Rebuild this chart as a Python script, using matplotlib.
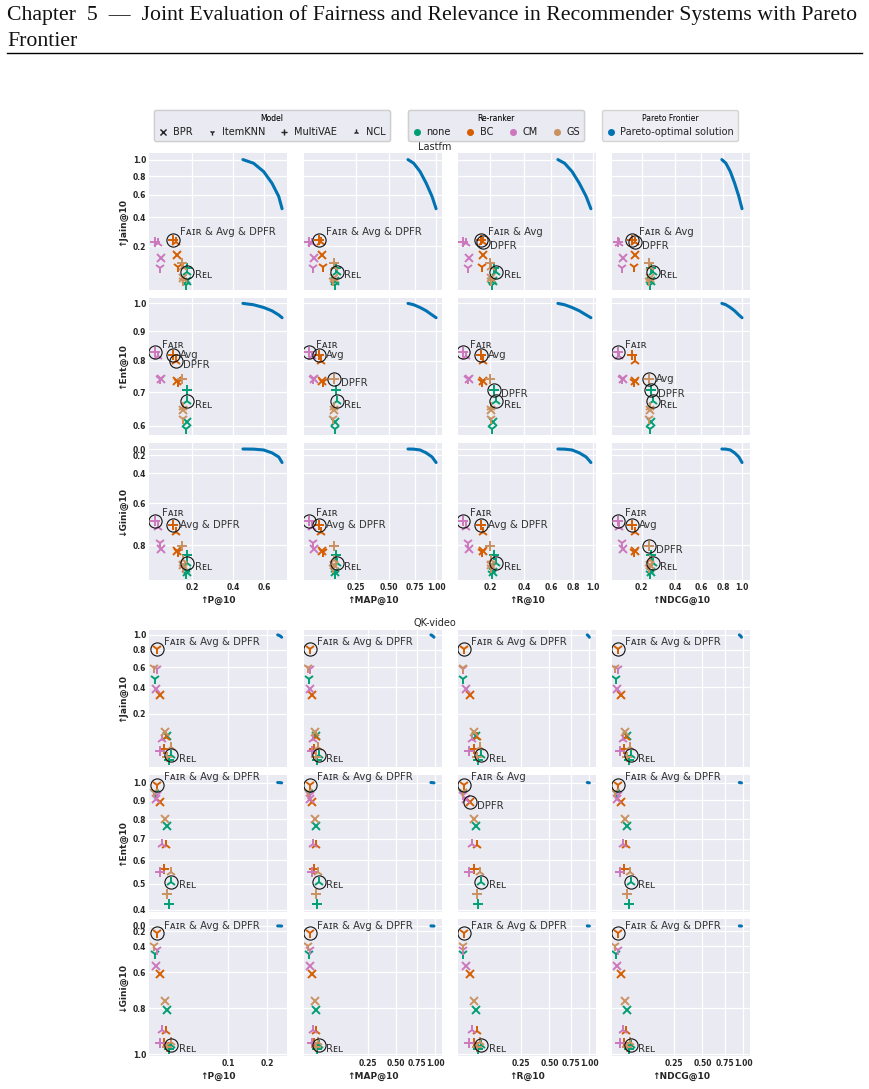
"""Fairness vs relevance scatter grid with Pareto frontiers (Lastfm, QK-video)."""

import matplotlib.pyplot as plt
import numpy as np
from matplotlib.lines import Line2D

MODELS = ["BPR", "ItemKNN", "MultiVAE", "NCL"]
RERANKERS = ["none", "BC", "CM", "GS"]
MARKERS = {"BPR": "x", "ItemKNN": "1", "MultiVAE": "+", "NCL": "2"}
COLORS = {"none": "#029E73", "BC": "#D55E00", "CM": "#CC78BC", "GS": "#CA9161"}
PARETO_COLOR = "#0173B2"
TEXT = "#262626"

REL = ["P", "MAP", "R", "NDCG"]
FAIR = ["Jain", "Ent", "Gini"]
FAIR_LABELS = {"Jain": "\u2191Jain@10", "Ent": "\u2191Ent@10", "Gini": "\u2193Gini@10"}
REL_LABELS = {"P": "\u2191P@10", "MAP": "\u2191MAP@10", "R": "\u2191R@10", "NDCG": "\u2191NDCG@10"}

# one value per run, re-rankers outer (none, BC, CM, GS), models inner (BPR, ItemKNN, MultiVAE, NCL)
LASTFM_P = [0.180, 0.177, 0.178, 0.181, 0.141, 0.145, 0.128, 0.140,
            0.092, 0.089, 0.076, 0.085, 0.165, 0.163, 0.160, 0.165]
LASTFM_MAP = [0.138, 0.135, 0.140, 0.145, 0.083, 0.085, 0.073, 0.078,
              0.056, 0.054, 0.043, 0.050, 0.130, 0.128, 0.133, 0.132]
LASTFM_R = [0.214, 0.210, 0.220, 0.230, 0.167, 0.165, 0.159, 0.170,
            0.112, 0.108, 0.091, 0.100, 0.205, 0.205, 0.200, 0.205]
LASTFM_NDCG = [0.250, 0.245, 0.246, 0.257, 0.167, 0.165, 0.154, 0.167,
               0.118, 0.115, 0.099, 0.105, 0.240, 0.238, 0.235, 0.240]
LASTFM_JAIN = [0.050, 0.040, 0.095, 0.081, 0.155, 0.100, 0.239, 0.225,
               0.139, 0.093, 0.223, 0.220, 0.060, 0.050, 0.116, 0.100]
LASTFM_ENT = [0.612, 0.592, 0.706, 0.672, 0.735, 0.730, 0.820, 0.800,
              0.740, 0.742, 0.828, 0.817, 0.645, 0.620, 0.742, 0.655]
LASTFM_GINI = [0.904, 0.912, 0.840, 0.872, 0.823, 0.830, 0.712, 0.742,
               0.817, 0.790, 0.691, 0.723, 0.880, 0.890, 0.804, 0.860]

QK_P = [0.0128, 0.0051, 0.0144, 0.0163, 0.0082, 0.0063, 0.0106, 0.0123,
        0.0060, 0.0063, 0.0078, 0.0095, 0.0111, 0.0048, 0.0128, 0.0157]
QK_MAP = [0.0127, 0.0032, 0.0150, 0.0177, 0.0068, 0.0045, 0.0098, 0.0121,
          0.0041, 0.0045, 0.0063, 0.0084, 0.0104, 0.0028, 0.0127, 0.0169]
QK_R = [0.0286, 0.0055, 0.0340, 0.0424, 0.0156, 0.0066, 0.0237, 0.0310,
        0.0092, 0.0060, 0.0139, 0.0196, 0.0237, 0.0050, 0.0310, 0.0400]
QK_NDCG = [0.0271, 0.0072, 0.0317, 0.0372, 0.0148, 0.0100, 0.0211, 0.0259,
           0.0092, 0.0100, 0.0138, 0.0181, 0.0222, 0.0065, 0.0271, 0.0356]
QK_JAIN = [0.086, 0.477, 0.0148, 0.0246, 0.335, 0.808, 0.041, 0.080,
           0.382, 0.580, 0.034, 0.075, 0.103, 0.590, 0.020, 0.045]
QK_ENT = [0.762, 0.940, 0.420, 0.508, 0.891, 0.986, 0.560, 0.673,
          0.906, 0.930, 0.550, 0.675, 0.800, 0.945, 0.458, 0.550]
QK_GINI = [0.807, 0.469, 0.980, 0.963, 0.612, 0.238, 0.954, 0.905,
           0.561, 0.431, 0.954, 0.898, 0.762, 0.400, 0.970, 0.950]

# Pareto-optimal solutions
LASTFM_FRONT_P = [0.46, 0.528, 0.597, 0.657, 0.708, 0.734]
LASTFM_FRONT_MAP = [0.68, 0.74, 0.81, 0.88, 0.95, 1.0]
LASTFM_FRONT_R = [0.66, 0.72, 0.79, 0.86, 0.93, 0.98]
LASTFM_FRONT_NDCG = [0.79, 0.83, 0.875, 0.92, 0.965, 1.0]
LASTFM_FRONT_JAIN = [1.0, 0.954, 0.853, 0.722, 0.585, 0.471]
LASTFM_FRONT_ENT = [1.0, 0.995, 0.985, 0.973, 0.958, 0.948]
LASTFM_FRONT_GINI = [0.0, 0.03, 0.08, 0.16, 0.23, 0.30]

QK_FRONT_P = [0.233, 0.238, 0.242, 0.246]
QK_FRONT_MAP = [0.94, 0.955, 0.97, 0.985]
QK_FRONT_R = [0.97, 0.98, 0.99, 1.0]
QK_FRONT_NDCG = [0.945, 0.955, 0.965, 0.975]
QK_FRONT_JAIN = [1.0, 0.993, 0.982, 0.968]
QK_FRONT_ENT = [1.0, 0.9995, 0.999, 0.998]
QK_FRONT_GINI = [0.0, 0.01, 0.02, 0.03]

# highlighted solutions: (label, re-ranker, model)
REL_PT = ("Rel", "none", "NCL")
LASTFM_MARKED = {
    ("Jain", "P"): [("Fair & Avg & DPFR", "BC", "MultiVAE"), REL_PT],
    ("Jain", "MAP"): [("Fair & Avg & DPFR", "BC", "MultiVAE"), REL_PT],
    ("Jain", "R"): [("Fair & Avg", "BC", "MultiVAE"), ("DPFR", "BC", "NCL"), REL_PT],
    ("Jain", "NDCG"): [("Fair & Avg", "BC", "MultiVAE"), ("DPFR", "BC", "NCL"), REL_PT],
    ("Ent", "P"): [("Fair", "CM", "MultiVAE"), ("Avg", "BC", "MultiVAE"), ("DPFR", "BC", "NCL"), REL_PT],
    ("Ent", "MAP"): [("Fair", "CM", "MultiVAE"), ("Avg", "BC", "MultiVAE"), ("DPFR", "GS", "MultiVAE"), REL_PT],
    ("Ent", "R"): [("Fair", "CM", "MultiVAE"), ("Avg", "BC", "MultiVAE"), ("DPFR", "none", "MultiVAE"), REL_PT],
    ("Ent", "NDCG"): [("Fair", "CM", "MultiVAE"), ("Avg", "GS", "MultiVAE"), ("DPFR", "none", "MultiVAE"), REL_PT],
    ("Gini", "P"): [("Fair", "CM", "MultiVAE"), ("Avg & DPFR", "BC", "MultiVAE"), REL_PT],
    ("Gini", "MAP"): [("Fair", "CM", "MultiVAE"), ("Avg & DPFR", "BC", "MultiVAE"), REL_PT],
    ("Gini", "R"): [("Fair", "CM", "MultiVAE"), ("Avg & DPFR", "BC", "MultiVAE"), REL_PT],
    ("Gini", "NDCG"): [("Fair", "CM", "MultiVAE"), ("Avg", "BC", "MultiVAE"), ("DPFR", "GS", "MultiVAE"), REL_PT],
}
QK_MARKED = {(f, r): [("Fair & Avg & DPFR", "BC", "ItemKNN"), REL_PT] for f in FAIR for r in REL}
QK_MARKED[("Ent", "R")] = [("Fair & Avg", "BC", "ItemKNN"), ("DPFR", "BC", "BPR"), REL_PT]

LASTFM_XLIM = {"P": (0.0625, 0.773), "MAP": (0.031, 1.075), "R": (0.076, 1.035), "NDCG": (0.08, 1.09)}
LASTFM_YLIM = {"Jain": (0.028, 1.086), "Ent": (0.574, 1.02), "Gini": (0.934, -0.2)}
QK_XLIM = {"P": (0.0028, 0.264), "MAP": (0.0005, 1.107), "R": (0.0014, 1.10), "NDCG": (0.0033, 1.10)}
QK_YLIM = {"Jain": (0.0056, 1.07), "Ent": (0.391, 1.044), "Gini": (1.006, -0.232)}

LASTFM_XTICKS = {"P": ([0.2, 0.4, 0.6], "{:.1f}"), "MAP": ([0.25, 0.5, 0.75, 1.0], "{:.2f}"),
                 "R": ([0.2, 0.4, 0.6, 0.8, 1.0], "{:.1f}"), "NDCG": ([0.2, 0.4, 0.6, 0.8, 1.0], "{:.1f}")}
QK_XTICKS = {"P": ([0.1, 0.2], "{:.1f}"), "MAP": ([0.25, 0.5, 0.75, 1.0], "{:.2f}"),
             "R": ([0.25, 0.5, 0.75, 1.0], "{:.2f}"), "NDCG": ([0.25, 0.5, 0.75, 1.0], "{:.2f}")}
LASTFM_YTICKS = {"Jain": [0.2, 0.4, 0.6, 0.8, 1.0], "Ent": [0.6, 0.7, 0.8, 0.9, 1.0],
                 "Gini": [0.0, 0.2, 0.4, 0.6, 0.8]}
QK_YTICKS = {"Jain": [0.2, 0.4, 0.6, 0.8, 1.0], "Ent": [0.4, 0.5, 0.6, 0.7, 0.8, 0.9, 1.0],
             "Gini": [0.0, 0.2, 0.4, 0.6, 0.8, 1.0]}

RUNS = [(r, m) for r in RERANKERS for m in MODELS]
W, H = 870, 1089
COL_LEFT = [149, 304, 458, 612]
AX_W, AX_H = 138, 137


def sqrt_fwd(v):
    return np.sqrt(np.maximum(v, 0))


def sqrt_inv(v):
    return np.square(v)


def sq_fwd(v):
    return np.sign(v) * np.square(v)


def sq_inv(v):
    return np.sign(v) * np.sqrt(np.abs(v))


def smallcaps(text):
    return text.replace("Fair", "F\u1d00\u026a\u0280").replace("Rel", "R\u1d07\u029f")


def label_offset(label):
    if label.startswith("Fair"):
        return (5, 5.5)
    if label.startswith("Avg"):
        return (5, 0)
    if label == "DPFR":
        return (5, -3)
    return (5.5, -2.5)


def draw_block(fig, row_tops, data, front, marked, xlims, ylims, xticks, yticks):
    for r, fm in enumerate(FAIR):
        for c, rm in enumerate(REL):
            top = row_tops[r]
            ax = fig.add_axes([COL_LEFT[c] / W, 1 - (top + AX_H) / H, AX_W / W, AX_H / H])
            ax.set_facecolor("#EAEAF2")
            ax.set_xscale("function", functions=(sqrt_fwd, sqrt_inv))
            if fm == "Gini":
                ax.set_yscale("function", functions=(sq_fwd, sq_inv))
            else:
                ax.set_yscale("function", functions=(sqrt_fwd, sqrt_inv))
            ax.plot(front[rm], front[fm], color=PARETO_COLOR, lw=2.2, solid_capstyle="round", zorder=3)
            for i, (rr, mm) in enumerate(RUNS):
                ms = 6 if mm == "BPR" else 7.5
                ax.plot(data[rm][i], data[fm][i], marker=MARKERS[mm], color=COLORS[rr],
                        ms=ms, mew=1.4, ls="none", zorder=4)
            for label, rr, mm in marked[(fm, rm)]:
                i = RUNS.index((rr, mm))
                x, y = data[rm][i], data[fm][i]
                ax.plot(x, y, "o", mfc="none", mec="#111111", ms=9.5, mew=0.8, zorder=5)
                ax.annotate(smallcaps(label), (x, y), xytext=label_offset(label),
                            textcoords="offset points", ha="left", va="center",
                            fontsize=7.3, color="#333333", zorder=6)
            ax.set_xlim(*xlims[rm])
            ax.set_ylim(*ylims[fm])
            ticks, fmt = xticks[rm]
            ax.set_xticks(ticks)
            ax.set_yticks(yticks[fm])
            ax.set_xticks([], minor=True)
            ax.set_yticks([], minor=True)
            ax.grid(True, color="white", lw=0.9)
            ax.set_axisbelow(True)
            for s in ax.spines.values():
                s.set_visible(False)
            ax.tick_params(length=0, pad=2, labelsize=5.5, labelcolor=TEXT)
            if r == len(FAIR) - 1:
                ax.set_xticklabels([fmt.format(t) for t in ticks], fontweight="bold")
                ax.set_xlabel(REL_LABELS[rm], fontsize=6.5, fontweight="bold", color=TEXT, labelpad=3)
            else:
                ax.tick_params(labelbottom=False)
            if c == 0:
                ax.set_yticklabels([f"{t:.1f}" for t in yticks[fm]], fontweight="bold")
                ax.set_ylabel(FAIR_LABELS[fm], fontsize=6.5, fontweight="bold", color=TEXT, labelpad=4)
            else:
                ax.tick_params(labelleft=False)


def main():
    fig = plt.figure(figsize=(W / 100, H / 100), dpi=100)

    fig.text(7 / W, 1 - 15 / H, "Chapter  5  \u2014  Joint Evaluation of Fairness and Relevance in Recommender Systems with Pareto",
             family="Liberation Serif", fontsize=15.7, va="center", ha="left", color="#111111")
    fig.text(7 / W, 1 - 42 / H, "Frontier", family="Liberation Serif", fontsize=15.7,
             va="center", ha="left", color="#111111")
    fig.add_artist(Line2D([7 / W, 862 / W], [1 - 53 / H, 1 - 53 / H], color="black", lw=1.0))

    lastfm = {"P": LASTFM_P, "MAP": LASTFM_MAP, "R": LASTFM_R, "NDCG": LASTFM_NDCG,
              "Jain": LASTFM_JAIN, "Ent": LASTFM_ENT, "Gini": LASTFM_GINI}
    lastfm_front = {"P": LASTFM_FRONT_P, "MAP": LASTFM_FRONT_MAP, "R": LASTFM_FRONT_R,
                    "NDCG": LASTFM_FRONT_NDCG, "Jain": LASTFM_FRONT_JAIN,
                    "Ent": LASTFM_FRONT_ENT, "Gini": LASTFM_FRONT_GINI}
    qk = {"P": QK_P, "MAP": QK_MAP, "R": QK_R, "NDCG": QK_NDCG,
          "Jain": QK_JAIN, "Ent": QK_ENT, "Gini": QK_GINI}
    qk_front = {"P": QK_FRONT_P, "MAP": QK_FRONT_MAP, "R": QK_FRONT_R, "NDCG": QK_FRONT_NDCG,
                "Jain": QK_FRONT_JAIN, "Ent": QK_FRONT_ENT, "Gini": QK_FRONT_GINI}

    draw_block(fig, [153, 298, 443], lastfm, lastfm_front, LASTFM_MARKED,
               LASTFM_XLIM, LASTFM_YLIM, LASTFM_XTICKS, LASTFM_YTICKS)
    draw_block(fig, [630, 775, 919], qk, qk_front, QK_MARKED,
               QK_XLIM, QK_YLIM, QK_XTICKS, QK_YTICKS)

    fig.text(435 / W, 1 - 147 / H, "Lastfm", fontsize=7, ha="center", va="center", color=TEXT)
    fig.text(435 / W, 1 - 623 / H, "QK-video", fontsize=7, ha="center", va="center", color=TEXT)

    legend_kw = dict(loc="center", frameon=True, fontsize=7, title_fontsize=5.5, facecolor="#EAEAF2",
                     edgecolor="#CCCCCC", handlelength=1.0, handletextpad=0.5, columnspacing=1.5,
                     borderpad=0.4, labelcolor=TEXT)
    model_handles = [Line2D([], [], marker=MARKERS[m], color=TEXT, ls="none", ms=4, mew=1.0) for m in MODELS]
    leg = fig.legend(model_handles, MODELS, title="Model", ncol=4, bbox_to_anchor=(272 / W, 1 - 125.5 / H),
                     **legend_kw)
    fig.add_artist(leg)
    rr_handles = [Line2D([], [], marker="o", color=COLORS[r], ls="none", ms=4) for r in RERANKERS]
    leg = fig.legend(rr_handles, RERANKERS, title="Re-ranker", ncol=4, bbox_to_anchor=(496 / W, 1 - 125.5 / H),
                     **legend_kw)
    fig.add_artist(leg)
    pf_handles = [Line2D([], [], marker="o", color=PARETO_COLOR, ls="none", ms=4)]
    fig.legend(pf_handles, ["Pareto-optimal solution"], title="Pareto Frontier",
               bbox_to_anchor=(670 / W, 1 - 125.5 / H), **legend_kw)

    fig.savefig("out.png", dpi=100)
    plt.close(fig)


if __name__ == "__main__":
    main()
